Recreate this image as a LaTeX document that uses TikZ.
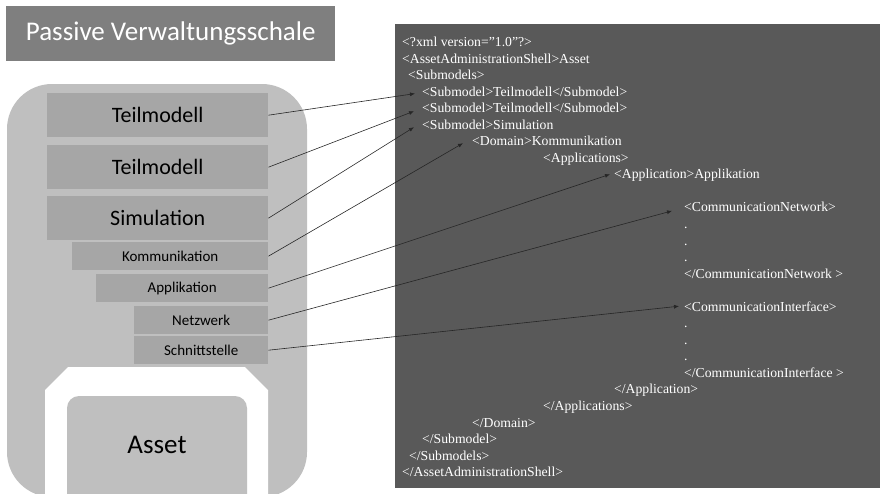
\documentclass[tikz,border=0pt]{standalone}
\usepackage{fontspec}
\setmainfont{Liberation Serif}
\newfontfamily\calfont{Carlito}
\usetikzlibrary{arrows.meta}
\definecolor{outergray}{HTML}{BFBFBF}
\definecolor{boxgray}{HTML}{A6A6A6}
\definecolor{titlegray}{HTML}{7F7F7F}
\definecolor{xmlbg}{HTML}{595959}
\begin{document}
\begin{tikzpicture}[x=1pt,y=-1pt,
  bigbox/.style={fill=boxgray, inner sep=0pt, anchor=north west, minimum width=221pt, minimum height=44pt, font=\calfont\fontsize{22}{26}\selectfont},
  smallbox/.style={fill=boxgray, inner sep=0pt, anchor=north west, minimum height=28pt, font=\calfont\fontsize{15}{18}\selectfont},
  xmlline/.style={anchor=base west, inner sep=0pt, text=white, font=\fontsize{13.7}{16}\selectfont},
  link/.style={draw=black!85, line width=0.6pt, -{Latex[length=5pt,width=4pt]}}]
\useasboundingbox (0,0) rectangle (880,493);
\clip (0,0) rectangle (880,493);
% title
\node[fill=titlegray, text=white, inner sep=0pt, anchor=north west, minimum width=329pt, minimum height=55pt, font=\calfont\fontsize{27}{32}\selectfont] (title) at (6,6) {Passive Verwaltungsschale};
% outer shell
\fill[outergray, rounded corners=45pt] (7,84) rectangle (307,497);
\fill[white] (68,367) -- (245,367) -- (268,390) -- (268,510) -- (45,510) -- (45,390) -- cycle;
\fill[outergray, rounded corners=12pt] (67,396) rectangle (247,520);
\node[font=\calfont\fontsize{27}{32}\selectfont] (asset) at (157,445) {Asset};
% inner boxes
\node[bigbox] (t1) at (47,93) {Teilmodell};
\node[bigbox] (t2) at (47,145) {Teilmodell};
\node[bigbox] (sim) at (47,196) {Simulation};
\node[smallbox, minimum width=196pt] (kom) at (72,242) {Kommunikation};
\node[smallbox, minimum width=172pt] (app) at (96,274) {Applikation};
\node[smallbox, minimum width=134pt] (net) at (134,306) {Netzwerk};
\node[smallbox, minimum width=134pt] (sch) at (134,336) {Schnittstelle};
% xml panel
\fill[xmlbg] (395,24) rectangle (880,488);
\node[xmlline] (l1) at (402,46.5) {<?xml version=\symbol{34}1.0\symbol{34}?>};
\node[xmlline] (l2) at (402,63.0) {<AssetAdministrationShell>Asset};
\node[xmlline] (l3) at (408,79.6) {<Submodels>};
\node[xmlline] (l4) at (422,96.1) {<Submodel>Teilmodell</Submodel>};
\node[xmlline] (l5) at (422,112.7) {<Submodel>Teilmodell</Submodel>};
\node[xmlline] (l6) at (422,129.2) {<Submodel>Simulation};
\node[xmlline] (l7) at (472,145.7) {<Domain>Kommunikation};
\node[xmlline] (l8) at (543,162.3) {<Applications>};
\node[xmlline] (l9) at (614,178.8) {<Application>Applikation};
\node[xmlline] (l11) at (684,211.9) {<CommunicationNetwork>};
\node[xmlline] (l12) at (684,228.4) {.};
\node[xmlline] (l13) at (684,245.0) {.};
\node[xmlline] (l14) at (684,261.5) {.};
\node[xmlline] (l15) at (684,278.1) {</CommunicationNetwork >};
\node[xmlline] (l17) at (684,311.2) {<CommunicationInterface>};
\node[xmlline] (l18) at (684,327.7) {.};
\node[xmlline] (l19) at (684,344.2) {.};
\node[xmlline] (l20) at (684,360.8) {.};
\node[xmlline] (l21) at (684,377.3) {</CommunicationInterface >};
\node[xmlline] (l22) at (614,393.9) {</Application>};
\node[xmlline] (l23) at (543,410.4) {</Applications>};
\node[xmlline] (l24) at (472,427.0) {</Domain>};
\node[xmlline] (l25) at (422,443.5) {</Submodel>};
\node[xmlline] (l26) at (409,460.0) {</Submodels>};
\node[xmlline] (l27) at (402,476.6) {</AssetAdministrationShell>};
% links
\draw[link] (t1.east) -- ([shift={(-7,-2.5)}]l4.base west);
\draw[link] (t2.east) -- ([shift={(-8,-1.5)}]l5.base west);
\draw[link] (sim.east) -- ([shift={(-8,-2)}]l6.base west);
\draw[link] (kom.east) -- ([shift={(-9,-2.5)}]l7.base west);
\draw[link] (app.east) -- ([shift={(-4,-4.5)}]l9.base west);
\draw[link] (net.east) -- ([shift={(-12,-1)}]l11.base west);
\draw[link] (sch.east) -- ([shift={(-5,-5)}]l17.base west);
\end{tikzpicture}
\end{document}
